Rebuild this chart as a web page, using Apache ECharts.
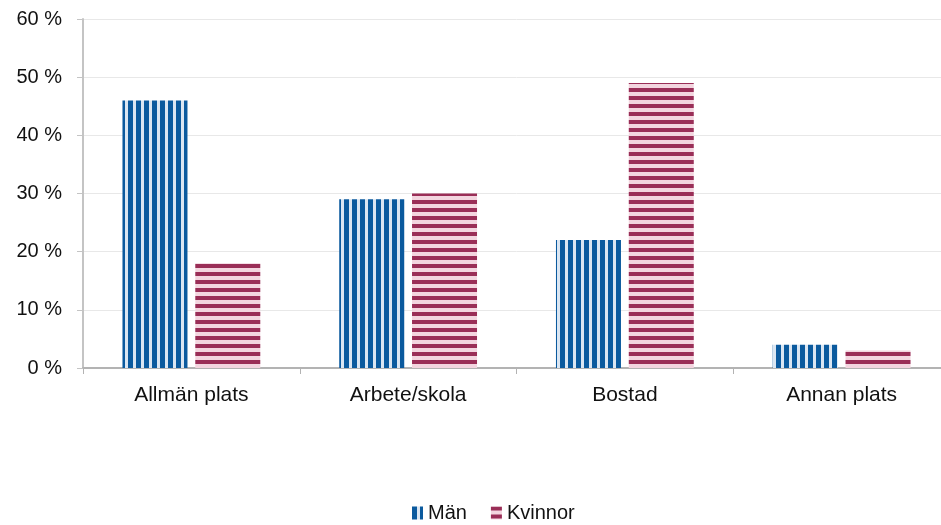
<!DOCTYPE html>
<html>
<head>
<meta charset="utf-8">
<script src="https://cdn.jsdelivr.net/npm/echarts@6/dist/echarts.min.js"></script>
<style>
  html, body { margin: 0; padding: 0; background: #fff; overflow: hidden; }
  #main { width: 950px; height: 525px; }
</style>
</head>
<body>
<div id="main"></div>
<script>
var categories = ['Allmän plats', 'Arbete/skola', 'Bostad', 'Annan plats'];
var manValues = [46, 29, 22, 4];
var kvinnorValues = [18, 30, 49, 3];
var yTicks = [0, 10, 20, 30, 40, 50, 60];

// stripe patterns like the original Excel fills
function stripes(dark, light, vertical) {
    var c = document.createElement('canvas');
    c.width = 8; c.height = 8;
    var ctx = c.getContext('2d');
    ctx.fillStyle = light;
    ctx.fillRect(0, 0, 8, 8);
    ctx.fillStyle = dark;
    if (vertical) ctx.fillRect(0, 0, 5, 8);
    else ctx.fillRect(0, 0, 8, 4);
    return { image: c, repeat: 'repeat' };
}
var manFill = stripes('#0b5a9e', '#dbe6f2', true);
var kvinnorFill = stripes('#9a2e57', '#f3d5df', false);

// plot area runs past the right edge of the 941px window, as in the original
var chart = echarts.init(document.getElementById('main'));
var option = {
    backgroundColor: '#fff',
    animation: false,
    textStyle: { fontFamily: 'Liberation Sans, Arial, sans-serif' },
    grid: { left: 83, right: 0, top: 19, height: 349, containLabel: false },
    legend: {
        top: 498,
        left: 407,
        icon: 'rect',
        itemWidth: 11,
        itemHeight: 13,
        itemGap: 24,
        textStyle: { color: '#111', fontSize: 20 },
        data: ['Män', 'Kvinnor']
    },
    xAxis: {
        type: 'category',
        data: categories,
        axisLine: { lineStyle: { color: '#b3b3b3', width: 2 } },
        axisTick: { show: true, length: 6, lineStyle: { color: '#b3b3b3' } },
        axisLabel: { color: '#111', fontSize: 21, margin: 17 }
    },
    yAxis: {
        type: 'value',
        min: yTicks[0],
        max: yTicks[yTicks.length - 1],
        interval: 10,
        axisLine: { show: true, lineStyle: { color: '#c4c4c4', width: 2 } },
        axisTick: { show: true, length: 6, lineStyle: { color: '#c4c4c4' } },
        axisLabel: { color: '#111', fontSize: 20, margin: 21, formatter: '{value} %' },
        splitLine: { lineStyle: { color: '#e8e8e8', width: 1 } }
    },
    series: [
        {
            name: 'Män',
            type: 'bar',
            data: manValues,
            barWidth: 65,
            barGap: '12%',
            itemStyle: { color: manFill }
        },
        {
            name: 'Kvinnor',
            type: 'bar',
            data: kvinnorValues,
            barWidth: 65,
            itemStyle: { color: kvinnorFill }
        }
    ]
};
chart.setOption(option);
</script>
</body>
</html>
